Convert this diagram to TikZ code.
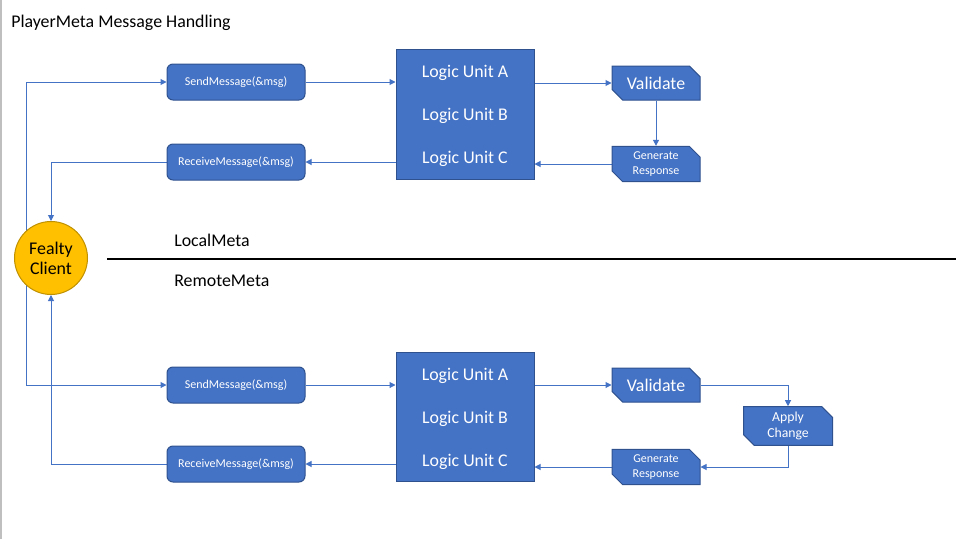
\documentclass[tikz,border=0pt]{standalone}
\usepackage{fontspec}
\setmainfont{Carlito}
\usetikzlibrary{shapes.misc,arrows.meta,backgrounds}
\definecolor{bfill}{HTML}{4472C4}
\definecolor{bdraw}{HTML}{2F528F}
\definecolor{yfill}{HTML}{FFC000}
\definecolor{ydraw}{HTML}{BF9000}
\definecolor{edge}{HTML}{BFBFBF}
\tikzset{
  msgbox/.style={draw=bdraw, fill=bfill, line width=0.75pt, rounded corners=4.5pt,
    minimum width=103.5pt, minimum height=27pt, inner sep=0pt, text=white,
    font=\fontsize{9}{11}\selectfont},
  logicbox/.style={draw=bdraw, fill=bfill, line width=0.75pt,
    minimum width=103.5pt, minimum height=97pt, inner sep=0pt},
  logictext/.style={text=white, anchor=base, inner sep=0pt, font=\fontsize{13.4}{16}\selectfont},
  snipbox/.style={draw=bdraw, fill=bfill, line width=0.75pt, chamfered rectangle,
    chamfered rectangle corners={north east,south west}, chamfered rectangle xsep=4pt,
    chamfered rectangle ysep=4pt,
    minimum width=66pt, minimum height=25.5pt, inner sep=0pt, text=white, align=center},
  bigtext/.style={font=\fontsize{13.4}{16}\selectfont},
  smalltext/.style={font=\fontsize{9}{11.25}\selectfont},
  midtext/.style={font=\fontsize{10.3}{12}\selectfont},
  arr/.style={draw=bfill, line width=0.75pt, -{Triangle[length=4.5pt,width=4.5pt]}},
  label/.style={anchor=base west, inner sep=0pt, font=\fontsize{13.4}{16}\selectfont},
}
\begin{document}
\begin{tikzpicture}[x=0.75pt,y=-0.75pt]
\useasboundingbox (0,0) rectangle (957,539);
\draw[edge, line width=1.5pt] (0.75,0) -- (0.75,539);

\node[label] (title) at (11,27) {PlayerMeta Message Handling};
\node[label] (local) at (174,246) {LocalMeta};
\node[label] (remote) at (174,286) {RemoteMeta};
\draw[line width=1.1pt] (107,259) -- (956,259);

% top half
\node[msgbox] (send1) at (236,82) {SendMessage(\&msg)};
\node[msgbox] (rec1) at (236,162) {ReceiveMessage(\&msg)};
\node[logicbox] (logic1) at (465,114.5) {};
\node[logictext] (la1) at (465,77) {Logic Unit A};
\node[logictext] (lb1) at (465,120) {Logic Unit B};
\node[logictext] (lc1) at (465,163) {Logic Unit C};
\node[snipbox,bigtext] (val1) at (656,83) {Validate};
\node[snipbox,smalltext] (gen1) at (656,164) {Generate\\Response};

% bottom half
\node[msgbox] (send2) at (236,385) {SendMessage(\&msg)};
\node[msgbox] (rec2) at (236,464) {ReceiveMessage(\&msg)};
\node[logicbox] (logic2) at (465,417) {};
\node[logictext] (la2) at (465,380) {Logic Unit A};
\node[logictext] (lb2) at (465,423) {Logic Unit B};
\node[logictext] (lc2) at (465,466) {Logic Unit C};
\node[snipbox,bigtext] (val2) at (656,385) {Validate};
\node[snipbox,midtext, minimum width=66.75pt] (app2) at (788,426) {Apply\\Change};
\node[snipbox,smalltext] (gen2) at (656,467) {Generate\\Response};

\node[circle, draw=ydraw, fill=yfill, line width=0.75pt, minimum size=54.75pt, inner sep=0pt,
  align=center, font=\fontsize{13.4}{15}\selectfont] (fc) at (51,258) {Fealty\\Client};
\coordinate (cl) at (26,258);

\begin{scope}[on background layer]
\draw[arr] (cl) |- (send1.west);
\draw[arr] (cl) |- (send2.west);
\draw[arr] (rec1.west) -| (fc.north);
\draw[arr] (rec2.west) -| (fc.south);
\draw[arr] (send1.east) -- (send1.east -| logic1.west);
\draw[arr] (logic1.east |- val1.west) -- (val1.west);
\draw[arr] (val1.south) -- (gen1.north);
\draw[arr] (gen1.west) -- (gen1.west -| logic1.east);
\draw[arr] (logic1.west |- rec1.east) -- (rec1.east);
\draw[arr] (send2.east) -- (send2.east -| logic2.west);
\draw[arr] (logic2.east |- val2.west) -- (val2.west);
\draw[arr] (val2.east) -| (app2.north);
\draw[arr] (app2.south) |- (gen2.east);
\draw[arr] (gen2.west) -- (gen2.west -| logic2.east);
\draw[arr] (logic2.west |- rec2.east) -- (rec2.east);
\end{scope}
\end{tikzpicture}
\end{document}
